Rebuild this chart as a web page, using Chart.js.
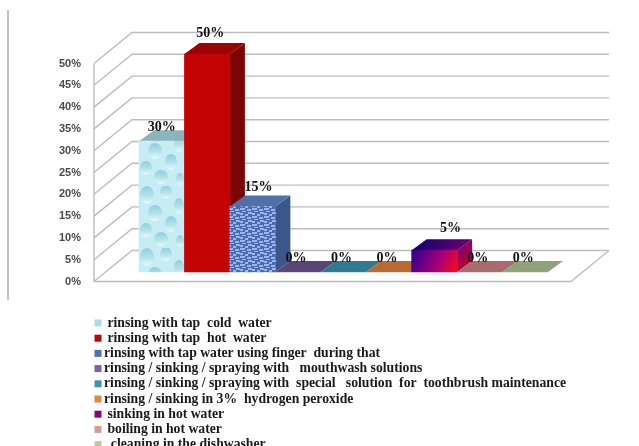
<!DOCTYPE html>
<html>
<head>
<meta charset="utf-8">
<title>Toothbrush cleaning methods</title>
<script src="https://cdn.jsdelivr.net/npm/chart.js@4"></script>
<style>
  html, body { margin: 0; padding: 0; background: #fff; overflow: hidden; }
  canvas { display: block; }
</style>
</head>
<body>
<canvas id="grafik" width="639" height="446"></canvas>
<script>
const methods = [
  ' rinsing with tap  cold  water',
  ' rinsing with tap  hot  water',
  'rinsing with tap water using finger  during that',
  'rinsing / sinking / spraying with   mouthwash solutions',
  'rinsing / sinking / spraying with  special   solution  for  toothbrush maintenance',
  'rinsing / sinking in 3%  hydrogen peroxide',
  ' sinking in hot water',
  ' boiling in hot water',
  '  cleaning in the dishwasher'
];
const shares = [30, 50, 15, 0, 0, 0, 5, 0, 0];
const yMax = 50;
const yStep = 5;

// Face colours per bar
const frontColors = ['#bfe8f0', '#c40404', '#5d7fc0', '#6a5488', '#38879b', '#c47a3a', '#a0007a', '#b27c7e', '#9db088'];
const topColors = ['#8db4bb', '#990404', '#4f70a8', '#5a4577', '#2f7a8e', '#b86a30', '#1c0a80', '#a86b6e', '#8fa27a'];
const sideColors = ['#7fa9b2', '#7c0303', '#3b5688', '#4c3a66', '#276a7c', '#9c5a28', '#8c0038', '#94595c', '#7c8e68'];
const legendColors = ['#a9dfe8', '#c40404', '#4f70b8', '#7c64a3', '#3f97ad', '#dd8a3f', '#90007a', '#d59a9a', '#b7cc92'];

// Label nudges, the labels sit on the box tops rather than over the bar centre
const labelShiftX = [0, 3, 6, -2, -2, -2, 16, -2, -2];
const labelShiftY = [-14, -21, -19, -14, -14, -14, -22, -14, -14];

// Depth of the boxes and of the whole floor
const barDepth = { x: 15, y: 11 };
const wallFront = { left: 94, right: 571, dy: 9.5 };
const wallDepth = { x: 38, y: 31 };

function dropTexture() {
  const c = document.createElement('canvas');
  c.width = 46; c.height = 62;
  const g = c.getContext('2d');
  g.fillStyle = '#c6edf3';
  g.fillRect(0, 0, 46, 62);
  [[9, 9, 7, 9], [28, 6, 6, 7], [41, 20, 5, 8], [17, 27, 7, 8], [33, 38, 6, 8], [8, 44, 6, 7], [23, 53, 7, 7], [42, 55, 4, 6]].forEach(([x, y, rx, ry]) => {
    const lg = g.createLinearGradient(x, y - ry, x, y + ry);
    lg.addColorStop(0, '#8fcfdc');
    lg.addColorStop(0.55, '#b4e2ea');
    lg.addColorStop(1, '#e6fafc');
    g.fillStyle = lg;
    g.beginPath();
    g.ellipse(x, y, rx, ry, 0, 0, Math.PI * 2);
    g.fill();
  });
  return g.createPattern(c, 'repeat');
}

function mosaicTexture() {
  const c = document.createElement('canvas');
  c.width = 12; c.height = 8;
  const g = c.getContext('2d');
  g.fillStyle = '#4a6cb4';
  g.fillRect(0, 0, 12, 8);
  g.fillStyle = '#9db6e6';
  g.fillRect(0, 0, 5, 2); g.fillRect(7, 1, 4, 2); g.fillRect(2, 3, 4, 1);
  g.fillRect(8, 4, 4, 2); g.fillRect(0, 5, 3, 2); g.fillRect(5, 6, 3, 2);
  return g.createPattern(c, 'repeat');
}

const textures = { 0: dropTexture(), 2: mosaicTexture() };

function barBox(chart, i) {
  const half = chart.scales.x.width / methods.length / 2;
  const cx = chart.scales.x.getPixelForValue(i);
  return { x0: cx - half, x1: cx + half, y0: chart.scales.y.getPixelForValue(shares[i]), y1: chart.scales.y.getPixelForValue(0) };
}

function frontFill(ctx) {
  const i = ctx.dataIndex;
  if (textures[i]) return textures[i];
  if (i !== 6) return frontColors[i];
  const b = barBox(ctx.chart, i);
  const lg = ctx.chart.ctx.createLinearGradient(b.x0, b.y0, b.x1, b.y1);
  lg.addColorStop(0, '#2a0090');
  lg.addColorStop(0.6, '#a8007a');
  lg.addColorStop(1, '#ff0a10');
  return lg;
}

function poly(ctx, pts, fill) {
  ctx.fillStyle = fill;
  ctx.beginPath();
  pts.forEach((p, k) => k ? ctx.lineTo(p[0], p[1]) : ctx.moveTo(p[0], p[1]));
  ctx.closePath();
  ctx.fill();
}

// Back wall, left wall and floor, placed from the y scale
const wallsPlugin = {
  id: 'walls',
  beforeDatasetsDraw(chart) {
    const { ctx, scales: { y } } = chart;
    const { left, right, dy } = wallFront;
    ctx.save();
    ctx.strokeStyle = '#bdbdbd';
    ctx.lineWidth = 1.4;
    for (let v = 0; v <= yMax; v += yStep) {
      const py = y.getPixelForValue(v) + dy;
      ctx.beginPath();
      ctx.moveTo(left, py);
      ctx.lineTo(left + wallDepth.x, py - wallDepth.y);
      ctx.lineTo(right + wallDepth.x, py - wallDepth.y);
      ctx.stroke();
    }
    const base = y.getPixelForValue(0) + dy;
    const top = y.getPixelForValue(yMax) + dy;
    ctx.beginPath();
    ctx.moveTo(left, top);
    ctx.lineTo(left, base);
    ctx.lineTo(right, base);
    ctx.lineTo(right + wallDepth.x, base - wallDepth.y);
    ctx.stroke();
    // page rule down the left side
    ctx.strokeStyle = '#8a8a8a';
    ctx.lineWidth = 1;
    ctx.beginPath();
    ctx.moveTo(8, 10);
    ctx.lineTo(8, 300);
    ctx.stroke();
    ctx.restore();
  }
};

// Each bar gets its top and side face right before its front, so later bars cover earlier ones
const boxPlugin = {
  id: 'boxes',
  beforeDatasetDraw(chart, args) {
    const { ctx } = chart;
    const { x: dx, y: dy } = barDepth;
    ctx.save();
    args.meta.data.forEach((bar, i) => {
      const b = barBox(chart, i);
      let top = topColors[i];
      let side = sideColors[i];
      if (i === 6) {
        top = ctx.createLinearGradient(b.x0, b.y0, b.x1 + dx, b.y0);
        top.addColorStop(0, '#12006e');
        top.addColorStop(1, '#6a0070');
        side = ctx.createLinearGradient(b.x1, b.y0, b.x1 + dx, b.y1);
        side.addColorStop(0, '#8a0070');
        side.addColorStop(1, '#c80010');
      }
      if (shares[i] > 0) {
        poly(ctx, [[b.x1, b.y0], [b.x1 + dx, b.y0 - dy], [b.x1 + dx, b.y1 - dy], [b.x1, b.y1]], side);
      }
      poly(ctx, [[b.x0, b.y0], [b.x0 + dx, b.y0 - dy], [b.x1 + dx, b.y0 - dy], [b.x1, b.y0]], top);
      bar.draw(ctx, chart.chartArea);
    });
    ctx.restore();
    return false;
  }
};

const valueLabelPlugin = {
  id: 'valueLabels',
  afterDatasetsDraw(chart) {
    const { ctx } = chart;
    ctx.save();
    ctx.font = 'bold 14px "Liberation Serif"';
    ctx.fillStyle = '#111';
    ctx.textAlign = 'center';
    ctx.textBaseline = 'middle';
    shares.forEach((v, i) => {
      const b = barBox(chart, i);
      ctx.fillText(v + '%', (b.x0 + b.x1) / 2 + labelShiftX[i], b.y0 + labelShiftY[i]);
    });
    ctx.restore();
  }
};

// Vertical key below the plot, the last row runs off the page bottom
const keyPlugin = {
  id: 'key',
  afterDraw(chart) {
    const { ctx } = chart;
    ctx.save();
    ctx.font = 'bold 13.7px "Liberation Serif"';
    ctx.textBaseline = 'middle';
    methods.forEach((name, i) => {
      const rowY = 323 + i * 15.2;
      ctx.fillStyle = legendColors[i];
      ctx.fillRect(94.5, rowY - 3.5, 7, 7);
      ctx.fillStyle = '#1a1a1a';
      ctx.fillText(name, 104, rowY);
    });
    ctx.restore();
  }
};

new Chart(document.getElementById('grafik'), {
  type: 'bar',
  data: {
    labels: methods,
    datasets: [{
      data: shares,
      backgroundColor: frontFill,
      borderWidth: 0,
      barPercentage: 1,
      categoryPercentage: 1
    }]
  },
  options: {
    responsive: false,
    animation: false,
    layout: { padding: { top: 54, bottom: 174, right: 91, left: 0 } },
    plugins: { legend: { display: false }, tooltip: { enabled: false } },
    scales: {
      x: { display: false },
      y: {
        min: 0,
        max: yMax,
        afterFit: scale => { scale.width = 139; scale.paddingTop = 0; scale.paddingBottom = 0; },
        border: { display: false },
        grid: { display: false },
        ticks: {
          stepSize: yStep,
          padding: 50,
          labelOffset: 9.5,
          color: '#4a4a4a',
          font: { family: '"Liberation Sans"', size: 11, weight: 'bold' },
          callback: v => v + '%'
        }
      }
    }
  },
  plugins: [wallsPlugin, boxPlugin, valueLabelPlugin, keyPlugin]
});
</script>
</body>
</html>
